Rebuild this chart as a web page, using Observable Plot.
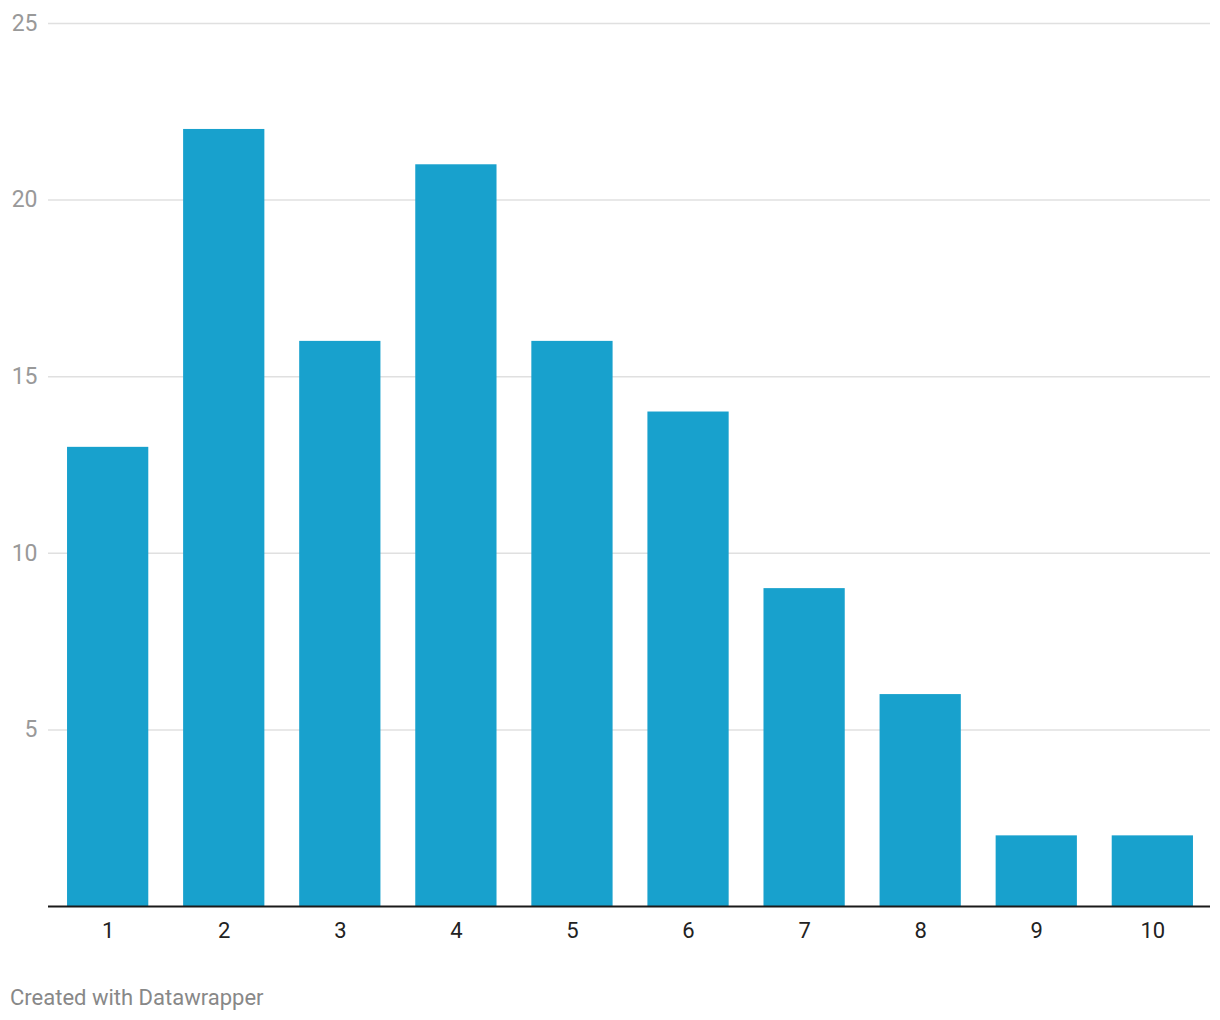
<!DOCTYPE html>
<html>
<head>
<meta charset="utf-8">
<script src="https://cdn.jsdelivr.net/npm/d3@7"></script>
<script src="https://cdn.jsdelivr.net/npm/@observablehq/plot@0.6"></script>
<style>
  body { margin: 0; background: #fff; font-family: Roboto, sans-serif; }
  #caption { font-family: Roboto, sans-serif; font-size: 22px; color: #888; padding-left: 10px; margin-top: 19px; }
</style>
</head>
<body>
<div id="chart"></div>
<div id="caption">Created with Datawrapper</div>
<script>
const categories = ["1","2","3","4","5","6","7","8","9","10"];
const values = [13, 22, 16, 21, 16, 14, 9, 6, 2, 2];
const yTicks = [5, 10, 15, 20, 25];

const data = categories.map((c, i) => ({cat: c, value: values[i]}));

const chart = Plot.plot({
  width: 1220,
  height: 966,
  marginLeft: 48,
  marginRight: 8,
  marginTop: 23,
  marginBottom: 60,
  style: { fontFamily: "Roboto, sans-serif", fontSize: "22px", background: "#fff" },
  x: { domain: categories, paddingInner: 0.3, paddingOuter: 0.164, round: false, label: null },
  y: { domain: [0, 25], label: null },
  marks: [
    Plot.ruleY(yTicks, { stroke: "#e0e0e0", strokeWidth: 1.5, insetRight: 2 }),
    Plot.axisY(yTicks, { tickSize: 0, tickPadding: 11, fill: "#999", fontSize: 23, label: null }),
    Plot.barY(data, { x: "cat", y: "value", fill: "#18a1cd" }),
    Plot.ruleY([0], { stroke: "#1a1a1a", strokeWidth: 2, insetRight: 2 }),
    Plot.axisX({ tickSize: 0, tickPadding: 16, fill: "#222", fontSize: 22, label: null })
  ]
});
document.getElementById("chart").appendChild(chart);
</script>
</body>
</html>
